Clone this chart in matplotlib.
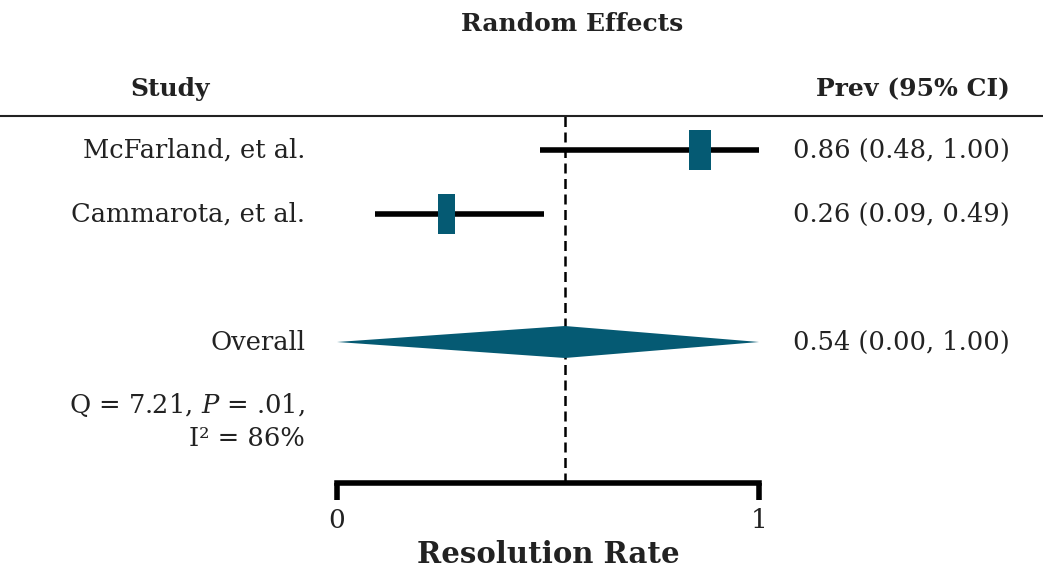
import matplotlib
matplotlib.use("Agg")
import matplotlib.pyplot as plt
import matplotlib.transforms as mtransforms
from matplotlib.lines import Line2D
from matplotlib.patches import Polygon, Rectangle

# Study-level estimates
studies = ["McFarland, et al.", "Cammarota, et al."]
prev = [0.86, 0.26]
ci_low = [0.48, 0.09]
ci_high = [1.00, 0.49]
box_width = [0.052, 0.040]   # box size ~ study weight

# Pooled estimate
overall_label = "Overall"
overall_prev = 0.54
overall_low = 0.00
overall_high = 1.00

stats_lines = [r"Q = 7.21, $\mathit{P}$ = .01,", "I\u00b2 = 86%"]
x_ticks = [0, 1]
x_ticklabels = ["0", "1"]

plt.rcParams["font.family"] = ["DejaVu Serif"]
plt.rcParams["mathtext.fontset"] = "dejavuserif"

W, H = 1043, 569
fig = plt.figure(figsize=(W / 100, H / 100), dpi=100)
teal = "#055a73"
txt = "#222222"
fs = 18.5
fs_head = 18

# axes: x in rate units, y in row units
ax_left, ax_right = 337, 759
ax_top, ax_bot = 116, 483
ax = fig.add_axes([ax_left / W, 1 - ax_bot / H, (ax_right - ax_left) / W, (ax_bot - ax_top) / H])
row_px = 64.0
row0_px = 150.0
ax.set_xlim(0, 1)
ax.set_ylim((ax_bot - row0_px) / row_px, (ax_top - row0_px) / row_px)
for s in ["top", "left", "right"]:
    ax.spines[s].set_visible(False)
ax.spines["bottom"].set_linewidth(4)
ax.spines["bottom"].set_capstyle("projecting")
ax.set_yticks([])
ax.set_xticks(x_ticks)
ax.set_xticklabels(x_ticklabels, fontsize=19, color=txt)
ax.tick_params(axis="x", length=12, width=4, pad=6, direction="out", color="black")
ax.set_xlabel("Resolution Rate", fontsize=21, fontweight="bold", color=txt, labelpad=5)

# reference line at pooled estimate
ax.axvline(overall_prev, color="black", lw=1.8, dashes=(4, 2.2), zorder=1)

rows = list(range(len(studies)))
overall_row = len(studies) + 1
h_box = 0.62
for r, p, lo, hi, bw in zip(rows, prev, ci_low, ci_high, box_width):
    ax.plot([lo, hi], [r, r], color="black", lw=4, solid_capstyle="butt", zorder=2, clip_on=False)
    ax.add_patch(Rectangle((p - bw / 2, r - h_box / 2), bw, h_box, facecolor=teal,
                           edgecolor="none", zorder=3, clip_on=False))

dh = 0.25
ax.add_patch(Polygon([[overall_low, overall_row], [overall_prev, overall_row - dh],
                      [overall_high, overall_row], [overall_prev, overall_row + dh]],
                     closed=True, facecolor=teal, edgecolor="none", zorder=3, clip_on=False))

# left-hand labels and right-hand estimates
label_x = 305 / W
est_x = 793 / W
blend = mtransforms.blended_transform_factory(fig.transFigure, ax.transData)

for r, name, p, lo, hi in zip(rows, studies, prev, ci_low, ci_high):
    ax.text(label_x, r, name, transform=blend, ha="right", va="center", fontsize=fs, color=txt)
    ax.text(est_x, r, f"{p:.2f} ({lo:.2f}, {hi:.2f})", transform=blend,
            ha="left", va="center", fontsize=fs, color=txt)

ax.text(label_x, overall_row, overall_label, transform=blend, ha="right", va="center",
        fontsize=fs, color=txt)
ax.text(est_x, overall_row, f"{overall_prev:.2f} ({overall_low:.2f}, {overall_high:.2f})",
        transform=blend, ha="left", va="center", fontsize=fs, color=txt)
for i, line in enumerate(stats_lines):
    ax.text(label_x, overall_row + 0.98 + i * 0.52, line, transform=blend, ha="right",
            va="center", fontsize=fs, color=txt)

# headers
fig.text(572 / W, 1 - 24 / H, "Random Effects", ha="center", va="center", fontsize=fs_head,
         fontweight="bold", color=txt)
fig.text(170 / W, 1 - 89 / H, "Study", ha="center", va="center", fontsize=fs_head,
         fontweight="bold", color=txt)
fig.text(913 / W, 1 - 89 / H, "Prev (95% CI)", ha="center", va="center", fontsize=fs_head,
         fontweight="bold", color=txt)
fig.add_artist(Line2D([0, 1], [1 - 116 / H, 1 - 116 / H], transform=fig.transFigure,
                      color="#222222", lw=1.5))

fig.savefig("out.png", dpi=100, facecolor="white")
